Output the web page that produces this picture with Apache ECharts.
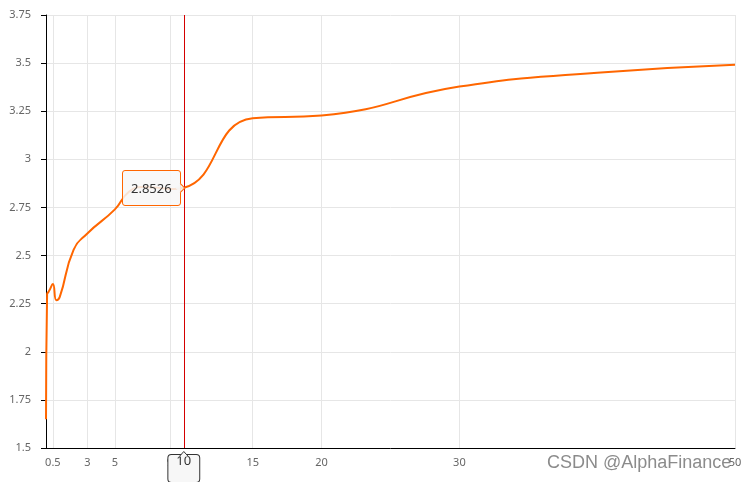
<!DOCTYPE html>
<html><head><meta charset="utf-8">
<script src="https://cdn.jsdelivr.net/npm/echarts@6/dist/echarts.min.js"></script>
<style>html,body{margin:0;padding:0;background:#fff}#c{width:750px;height:482px}</style>
</head><body><div id="c"></div>
<script>
// Yield curve data (term in years, yield %)
const terms  = [0, 0.08, 0.17, 0.25, 0.5, 0.75, 1, 2, 3, 5, 6, 7, 8, 9, 10, 15, 20, 30, 40, 50];
const yields = [1.65, 2.30, 2.31, 2.32, 2.352, 2.268, 2.285, 2.53, 2.615, 2.74, 2.83, 2.856, 2.853, 2.846, 2.8526, 3.213, 3.228, 3.378, 3.45, 3.492];
const xTickValues = [0.5, 3, 5, 9, 10, 15, 20, 30, 50];
const yMin = 1.5, yMax = 3.75, yStep = 0.25;
const pointerTerm = 10;
const watermarkText = 'CSDN @AlphaFinance';

const font = "'Noto Sans', sans-serif";
const lineColor = '#ff6600';
const chart = echarts.init(document.getElementById('c'), null, {renderer: 'canvas'});
const seriesData = terms.map((t, i) => [t, yields[i]]);
const option = {
  animation: false,
  textStyle: {fontFamily: font},
  grid: {left: 46, right: 15, top: 15, bottom: 34, outerBoundsMode: 'none'},
  tooltip: {
    trigger: 'item', triggerOn: 'none', alwaysShowContent: true, position: 'left',
    transitionDuration: 0,
    backgroundColor: 'rgba(247,247,247,0.85)', borderColor: lineColor, borderWidth: 1,
    padding: [7, 8],
    textStyle: {color: '#333', fontSize: 13, fontFamily: font},
    extraCssText: 'box-shadow:none;border-radius:3px;margin-left:8px;',
    formatter: p => String(p.value[1])
  },
  xAxis: {
    type: 'value', min: 0, max: 50,
    axisLine: {lineStyle: {color: '#000', width: 1}},
    axisTick: {show: false, customValues: xTickValues},
    axisLabel: {customValues: xTickValues, color: '#666', fontSize: 11, margin: 9, fontFamily: font},
    splitLine: {show: true, lineStyle: {color: '#e6e6e6', width: 1}},
    axisPointer: {
      show: true, value: pointerTerm, status: 'show', type: 'line', snap: false, triggerTooltip: false,
      lineStyle: {color: '#d40000', width: 1, type: 'solid'},
      label: {show: true, margin: 8, backgroundColor: '#f7f7f7', borderColor: '#333', borderWidth: 1,
        borderRadius: 3, padding: [0, 8, 14, 8], color: '#333', fontSize: 13, fontFamily: font,
        shadowBlur: 0, formatter: p => String(p.value)}
    }
  },
  yAxis: {
    type: 'value', min: yMin, max: yMax, interval: yStep,
    axisLine: {show: true, lineStyle: {color: '#000', width: 1}},
    axisTick: {show: true, length: 5, lineStyle: {color: '#000'}},
    axisLabel: {color: '#666', fontSize: 11, margin: 15, fontFamily: font},
    splitLine: {show: true, lineStyle: {color: '#e6e6e6', width: 1}}
  },
  series: [{
    type: 'line', data: seriesData, smooth: true,
    showSymbol: true, symbol: 'circle', symbolSize: 2,
    itemStyle: {color: lineColor, opacity: 0},
    lineStyle: {color: lineColor, width: 2},
    emphasis: {disabled: true}
  }]
};
chart.setOption(option);

function decorate() {
  const px = chart.convertToPixel({xAxisIndex: 0}, pointerTerm);
  const py = chart.convertToPixel({yAxisIndex: 0}, yMin);
  chart.setOption({
    graphic: [
      {type: 'polygon', z: 200, shape: {points: [[px - 4.5, py + 8.6], [px, py + 3.5], [px + 4.5, py + 8.6]]},
        style: {fill: '#f7f7f7'}},
      {type: 'polyline', z: 201, shape: {points: [[px - 4.5, py + 8.5], [px, py + 3.5], [px + 4.5, py + 8.5]]},
        style: {stroke: '#333', lineWidth: 1, fill: null}},
      {type: 'text', z: 210, x: 547, y: 463,
        style: {text: watermarkText, font: "18px 'Liberation Sans', Arial, sans-serif",
          fill: 'rgba(110,110,110,0.8)', textVerticalAlign: 'middle', textAlign: 'left'}}
    ]
  });
  const idx = terms.indexOf(pointerTerm);
  chart.dispatchAction({type: 'showTip', seriesIndex: 0, dataIndex: idx});
}
decorate();
setTimeout(decorate, 50);
</script>
</body></html>
